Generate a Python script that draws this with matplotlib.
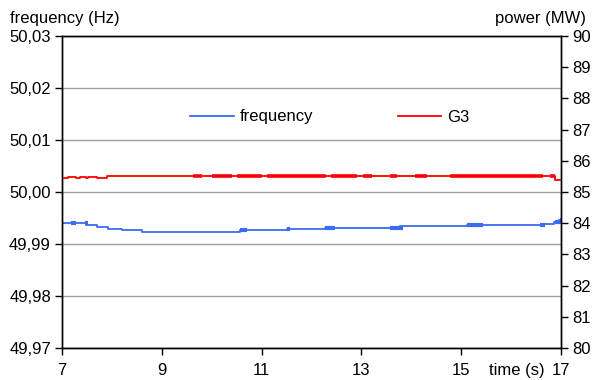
import matplotlib
matplotlib.use("Agg")
import matplotlib.pyplot as plt
from matplotlib.ticker import FuncFormatter

plt.rcParams['font.family'] = ['Liberation Sans', 'DejaVu Sans']

# frequency (Hz): step changes (time, value)
freq_t = [7.0, 7.49, 7.70, 7.92, 8.20, 8.60, 10.57, 11.50, 12.27, 13.77, 14.92, 15.12, 16.64, 16.85, 16.95, 17.0]
freq_v = [49.9941, 49.99365, 49.99333, 49.99294, 49.99269, 49.99237, 49.99269, 49.99294, 49.99313,
          49.99346, 49.99355, 49.99365, 49.9938, 49.9942, 49.9946, 49.9948]
# short noisy bursts on the frequency trace (start, end)
freq_burst = [(7.19, 7.29), (7.46, 7.52), (10.57, 10.70), (11.50, 11.57), (12.27, 12.47),
              (13.57, 13.83), (15.12, 15.44), (16.58, 16.68), (16.88, 17.0)]

# G3 power (MW): step changes
g3_t = [7.0, 7.12, 7.29, 7.36, 7.49, 7.52, 7.70, 7.90, 16.88, 17.0]
g3_v = [85.44, 85.47, 85.44, 85.47, 85.44, 85.49, 85.44, 85.51, 85.38, 85.38]
# noisy bursts on the power trace (start, end)
g3_burst = [(9.63, 9.81), (10.0, 10.4), (10.5, 11.0), (11.1, 11.77), (11.77, 12.3), (12.4, 12.91),
            (13.03, 13.21), (13.57, 13.71), (14.07, 14.31), (14.78, 16.64), (16.78, 16.88)]

x_ticks = [7, 9, 11, 13, 15, 17]

blue = '#3a6cf0'
red = '#ff0000'

fig = plt.figure(figsize=(5.94, 3.80), dpi=100)
ax = fig.add_axes([62 / 594, 1 - 348 / 380, (561 - 62) / 594, (348 - 36) / 380])
ax2 = ax.twinx()

ax.step(freq_t, freq_v, where='post', color=blue, lw=1.3, label='frequency')
for a, b in freq_burst:
    i = max(k for k in range(len(freq_t)) if freq_t[k] <= a)
    ax.plot([a, b], [freq_v[i] + 0.00003, freq_v[i] + 0.00003], color=blue, lw=3, solid_capstyle='butt')

ax2.step(g3_t, g3_v, where='post', color=red, lw=1.3, label='G3')
for a, b in g3_burst:
    ax2.plot([a, b], [85.527, 85.527], color=red, lw=2.6, solid_capstyle='butt')

ax.set_xlim(7, 17)
ax.set_ylim(49.97, 50.03)
ax2.set_ylim(80, 90)
ax.set_xticks(x_ticks)
ax.set_yticks([49.97, 49.98, 49.99, 50.00, 50.01, 50.02, 50.03])
ax2.set_yticks(range(80, 91))
ax.yaxis.set_major_formatter(FuncFormatter(lambda v, p: ('%.2f' % v).replace('.', ',')))
ax.grid(axis='y', color='#a0a0a0', lw=1)
ax.set_axisbelow(True)

for a_ in (ax, ax2):
    for s in a_.spines.values():
        s.set_color('black')
        s.set_linewidth(1)
ax.tick_params(axis='both', labelsize=12, length=5, width=1, direction='out', pad=3)
ax2.tick_params(axis='y', labelsize=12, length=5, width=1, direction='out', pad=3)
ax.tick_params(axis='x', pad=6)

fig.text(10 / 594, 1 - 18 / 380, 'frequency (Hz)', fontsize=12, va='center', ha='left')
fig.text(586 / 594, 1 - 18 / 380, 'power (MW)', fontsize=12, va='center', ha='right')
fig.text(545 / 594, 1 - 370 / 380, 'time (s)', fontsize=12, va='center', ha='right')

h1, l1 = ax.get_legend_handles_labels()
h2, l2 = ax2.get_legend_handles_labels()
ax2.legend(h1 + h2, l1 + l2, ncol=2, frameon=False, fontsize=12, loc='center',
           bbox_to_anchor=(330 / 594, 1 - 117 / 380), bbox_transform=fig.transFigure,
           columnspacing=5.1, handlelength=2.6, handletextpad=0.35)

fig.savefig('out.png', dpi=100)
